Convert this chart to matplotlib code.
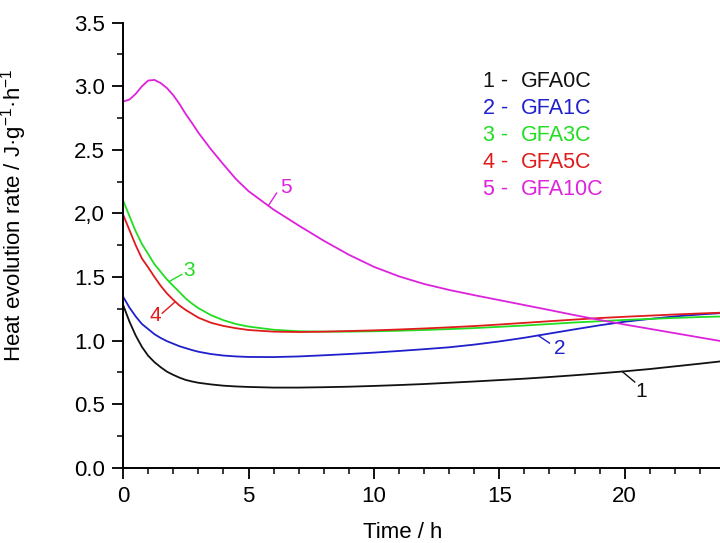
import numpy as np
import matplotlib.pyplot as plt
from matplotlib.ticker import MultipleLocator, FixedLocator

plt.rcParams['font.family'] = ['Liberation Sans', 'DejaVu Sans']
plt.rcParams['mathtext.fontset'] = 'custom'
plt.rcParams['mathtext.rm'] = 'Liberation Sans'
plt.rcParams['mathtext.it'] = 'Liberation Sans:italic'

# hydration time, h
time = [0, 0.25, 0.5, 0.75, 1.0, 1.25, 1.5, 1.75, 2.0, 2.25, 2.5, 2.75, 3.0, 3.5, 4.0, 4.5,
        5.0, 6.0, 7.0, 8.0, 9.0, 10.0, 11.0, 12.0, 13.0, 14.0, 15.0, 16.0, 17.0, 18.0,
        19.0, 20.0, 21.0, 22.0, 23.0, 24.0]

# heat evolution rate, J/(g h)
gfa0c = [1.28, 1.15, 1.04, 0.95, 0.88, 0.83, 0.79, 0.755, 0.73, 0.708, 0.69, 0.678, 0.668,
         0.655, 0.645, 0.639, 0.635, 0.63, 0.63, 0.633, 0.637, 0.643, 0.65, 0.658, 0.668,
         0.678, 0.689, 0.70, 0.713, 0.727, 0.742, 0.758, 0.776, 0.797, 0.818, 0.84]
gfa1c = [1.345, 1.26, 1.19, 1.13, 1.09, 1.05, 1.02, 0.995, 0.975, 0.955, 0.94, 0.925, 0.912,
         0.894, 0.882, 0.875, 0.871, 0.870, 0.875, 0.884, 0.894, 0.905, 0.918, 0.932, 0.947,
         0.968, 0.993, 1.022, 1.055, 1.088, 1.12, 1.148, 1.17, 1.19, 1.205, 1.218]
gfa3c = [2.10, 1.98, 1.86, 1.76, 1.68, 1.60, 1.54, 1.48, 1.43, 1.38, 1.33, 1.29, 1.255,
         1.20, 1.16, 1.13, 1.11, 1.085, 1.073, 1.07, 1.07, 1.073, 1.077, 1.083, 1.09, 1.098,
         1.108, 1.118, 1.13, 1.142, 1.152, 1.162, 1.17, 1.178, 1.185, 1.19]
gfa5c = [1.99, 1.87, 1.75, 1.645, 1.575, 1.50, 1.43, 1.37, 1.32, 1.275, 1.24, 1.21, 1.18,
         1.14, 1.115, 1.097, 1.083, 1.07, 1.067, 1.07, 1.075, 1.08, 1.087, 1.095, 1.104,
         1.114, 1.126, 1.139, 1.152, 1.165, 1.177, 1.187, 1.196, 1.205, 1.213, 1.22]
gfa10c = [2.88, 2.895, 2.94, 3.0, 3.045, 3.05, 3.025, 2.985, 2.93, 2.86, 2.78, 2.71, 2.635,
          2.505, 2.385, 2.27, 2.175, 2.03, 1.905, 1.785, 1.675, 1.58, 1.505, 1.445, 1.398,
          1.357, 1.318, 1.279, 1.24, 1.20, 1.162, 1.126, 1.092, 1.058, 1.024, 0.99]

names = ['GFA0C', 'GFA1C', 'GFA3C', 'GFA5C', 'GFA10C']
series = [gfa0c, gfa1c, gfa3c, gfa5c, gfa10c]
colors = ['#111111', '#1f1fcc', '#22dd22', '#e01b1b', '#dd22dd']

yticks = [0.0, 0.5, 1.0, 1.5, 2.0, 2.5, 3.0, 3.5]
ytick_labels = ['0.0', '0.5', '1.0', '1.5', '2,0', '2.5', '3.0', '3.5']

fig = plt.figure(figsize=(7.2, 5.43), dpi=100)
ax = fig.add_axes([0.171, 0.1387, 0.829, 0.8195])

for ys, c in zip(series, colors):
    ax.plot(time, ys, color=c, lw=1.3, solid_joinstyle='round')

# curve numbers with short leader lines: (curve anchor t, leader end, text position)
callouts = [
    (19.9, (20.4, 0.674), (20.65, 0.60)),
    (16.55, (17.0, 0.98), (17.4, 0.935)),
    (1.83, (2.34, 1.52), (2.62, 1.55)),
    (2.08, (1.56, 1.215), (1.27, 1.20)),
    (5.79, (6.12, 2.16), (6.48, 2.20)),
]
for i, (t0, (x1, y1), (tx, ty)) in enumerate(callouts):
    y0 = np.interp(t0, time, series[i])
    ax.plot([t0, x1], [y0, y1], color=colors[i], lw=1.0)
    ax.text(tx, ty, str(i + 1), color=colors[i], fontsize=15, ha='center', va='center')

ax.set_xlim(0, 23.8)
ax.set_ylim(0, 3.5)
ax.spines['top'].set_visible(False)
ax.spines['right'].set_visible(False)
for s in ('left', 'bottom'):
    ax.spines[s].set_linewidth(1.4)

ax.xaxis.set_major_locator(MultipleLocator(5))
ax.xaxis.set_minor_locator(MultipleLocator(1))
ax.yaxis.set_major_locator(FixedLocator(yticks))
ax.set_yticklabels(ytick_labels)
ax.yaxis.set_minor_locator(MultipleLocator(0.25))
ax.tick_params(which='major', direction='out', length=8, width=1.3, labelsize=16, pad=5)
ax.tick_params(which='minor', direction='out', length=4, width=1.1)

ax.set_xlabel('Time / h', fontsize=16)
ax.set_ylabel('Heat evolution rate / J·g$^{-1}$·h$^{-1}$', fontsize=16)
ax.xaxis.set_label_coords(0.469, -0.122)
ax.yaxis.set_label_coords(-0.157, 0.568)

# legend as coloured text rows
for i, (name, c) in enumerate(zip(names, colors)):
    y = 0.849 - i * 0.0497
    fig.text(0.671, y, f'{i + 1} -', color=c, fontsize=15.5, va='center')
    fig.text(0.724, y, name, color=c, fontsize=15.5, va='center')

fig.savefig('out.png', dpi=100)
